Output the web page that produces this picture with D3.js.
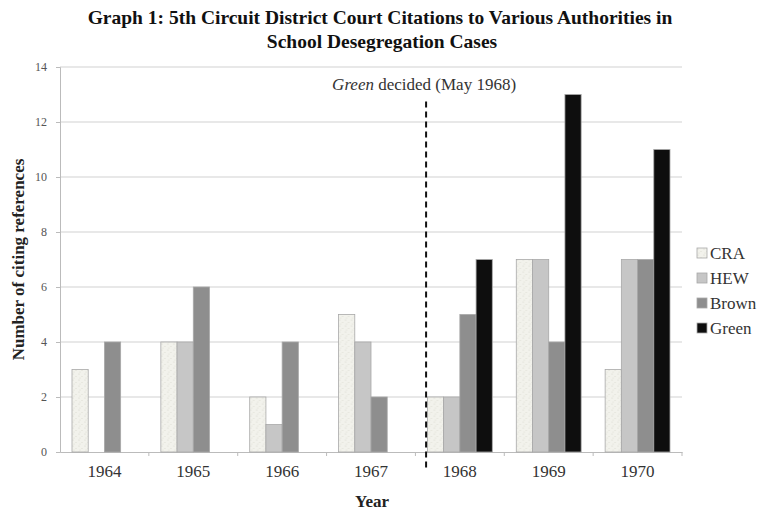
<!DOCTYPE html>
<html>
<head>
<meta charset="utf-8">
<script src="https://cdn.jsdelivr.net/npm/d3@7"></script>
<style>
  body { margin: 0; background: #fff; }
  text { font-family: "Liberation Serif", "DejaVu Serif", serif; }
</style>
</head>
<body>
<div id="chart"></div>
<script>
var years = ["1964", "1965", "1966", "1967", "1968", "1969", "1970"];
var series = ["CRA", "HEW", "Brown", "Green"];
var craValues = [3, 4, 2, 5, 2, 7, 3];
var hewValues = [0, 4, 1, 4, 2, 7, 7];
var brownValues = [4, 6, 4, 2, 5, 4, 7];
var greenValues = [0, 0, 0, 0, 7, 13, 11];
var yTicks = [0, 2, 4, 6, 8, 10, 12, 14];

var valuesBySeries = {CRA: craValues, HEW: hewValues, Brown: brownValues, Green: greenValues};

var margin = {top: 67, right: 76, bottom: 60, left: 60},
    width = 758 - margin.left - margin.right,
    height = 512 - margin.top - margin.bottom;

var svg = d3.select("#chart").append("svg")
    .attr("width", 758)
    .attr("height", 512);

// speckled fill for CRA
var defs = svg.append("defs");
var pat = defs.append("pattern")
    .attr("id", "speckle")
    .attr("patternUnits", "userSpaceOnUse")
    .attr("width", 6)
    .attr("height", 6);
pat.append("rect").attr("width", 6).attr("height", 6).attr("fill", "#f2f2ec");
pat.append("circle").attr("cx", 1).attr("cy", 1).attr("r", 0.6).attr("fill", "#d6d6cc");
pat.append("circle").attr("cx", 4).attr("cy", 3.5).attr("r", 0.6).attr("fill", "#dcdcd2");
pat.append("circle").attr("cx", 2).attr("cy", 5).attr("r", 0.5).attr("fill", "#d9d9cf");

var colors = {CRA: "url(#speckle)", HEW: "#c6c6c6", Brown: "#8e8e8e", Green: "#0e0e0e"};

var g = svg.append("g")
    .attr("transform", "translate(" + margin.left + "," + margin.top + ")");

var x0 = d3.scaleBand().domain(years).range([0, width]).padding(0);
var x1 = d3.scaleBand().domain(series)
    .range([x0.bandwidth() * 0.135, x0.bandwidth() * 0.865]).padding(0);
var y = d3.scaleLinear().domain([0, 14]).range([height, 0]);

// gridlines
g.selectAll("line.grid")
    .data(yTicks.slice(1))
    .enter().append("line")
    .attr("class", "grid")
    .attr("x1", 0).attr("x2", width)
    .attr("y1", function(d) { return y(d); })
    .attr("y2", function(d) { return y(d); })
    .attr("stroke", "#d2d2d2")
    .attr("stroke-width", 1.2);

// y axis
var yAxis = g.append("g")
    .call(d3.axisLeft(y).tickValues(yTicks).tickSize(4).tickPadding(9));
yAxis.select(".domain").attr("stroke", "#bbb");
yAxis.selectAll(".tick line").attr("stroke", "#bbb");
yAxis.selectAll("text").attr("fill", "#555").style("font-size", "12px");

// x axis
var xAxis = g.append("g")
    .attr("transform", "translate(0," + height + ")")
    .call(d3.axisBottom(x0).tickSize(0).tickPadding(13));
xAxis.select(".domain").attr("stroke", "#bbb");
xAxis.selectAll("text").attr("fill", "#333").style("font-size", "17px");
// boundary ticks between categories
g.selectAll("line.bound")
    .data(years)
    .enter().append("line")
    .attr("class", "bound")
    .attr("x1", function(d) { return x0(d) + x0.bandwidth(); })
    .attr("x2", function(d) { return x0(d) + x0.bandwidth(); })
    .attr("y1", height).attr("y2", height + 4)
    .attr("stroke", "#bbb");

// bars
years.forEach(function(yr, i) {
    var grp = g.append("g").attr("transform", "translate(" + x0(yr) + ",0)");
    series.forEach(function(s) {
        var v = valuesBySeries[s][i];
        if (v <= 0) return;
        grp.append("rect")
            .attr("x", x1(s))
            .attr("y", y(v))
            .attr("width", x1.bandwidth())
            .attr("height", height - y(v))
            .attr("fill", colors[s])
            .attr("stroke", "#a8a8a8")
            .attr("stroke-width", 0.8);
    });
});

// dashed line for Green decision (May 1968)
var lineX = x0("1968") + x0.bandwidth() * 0.12;
g.append("line")
    .attr("x1", lineX).attr("x2", lineX)
    .attr("y1", y(12.75)).attr("y2", height + 16)
    .attr("stroke", "#111")
    .attr("stroke-width", 2)
    .attr("stroke-dasharray", "6,4");

var note = g.append("text")
    .attr("x", lineX - 2)
    .attr("y", y(13.15))
    .attr("text-anchor", "middle")
    .attr("fill", "#333")
    .style("font-size", "17px");
note.append("tspan").attr("font-style", "italic").text("Green");
note.append("tspan").text(" decided (May 1968)");

// title
var title = svg.append("text")
    .attr("x", 380)
    .attr("text-anchor", "middle")
    .attr("font-weight", "bold")
    .attr("fill", "#111")
    .style("font-size", "19.5px");
title.append("tspan").attr("x", 380).attr("y", 24)
    .text("Graph 1: 5th Circuit District Court Citations to Various Authorities in");
title.append("tspan").attr("x", 382).attr("y", 48)
    .text("School Desegregation Cases");

// axis titles
svg.append("text")
    .attr("transform", "translate(24," + (margin.top + height / 2) + ") rotate(-90)")
    .attr("text-anchor", "middle")
    .attr("font-weight", "bold")
    .attr("fill", "#222")
    .style("font-size", "17px")
    .text("Number of citing references");

svg.append("text")
    .attr("x", margin.left + width / 2 + 1)
    .attr("y", 507)
    .attr("text-anchor", "middle")
    .attr("font-weight", "bold")
    .attr("fill", "#222")
    .style("font-size", "17px")
    .text("Year");

// legend
var legend = svg.append("g").attr("transform", "translate(697,248)");
series.forEach(function(s, i) {
    var row = legend.append("g").attr("transform", "translate(0," + (i * 25) + ")");
    row.append("rect")
        .attr("width", 10).attr("height", 10)
        .attr("fill", colors[s])
        .attr("stroke", "#a8a8a8")
        .attr("stroke-width", 0.8);
    row.append("text")
        .attr("x", 13).attr("y", 11)
        .attr("fill", "#333")
        .style("font-size", "17px")
        .text(s);
});
</script>
</body>
</html>
